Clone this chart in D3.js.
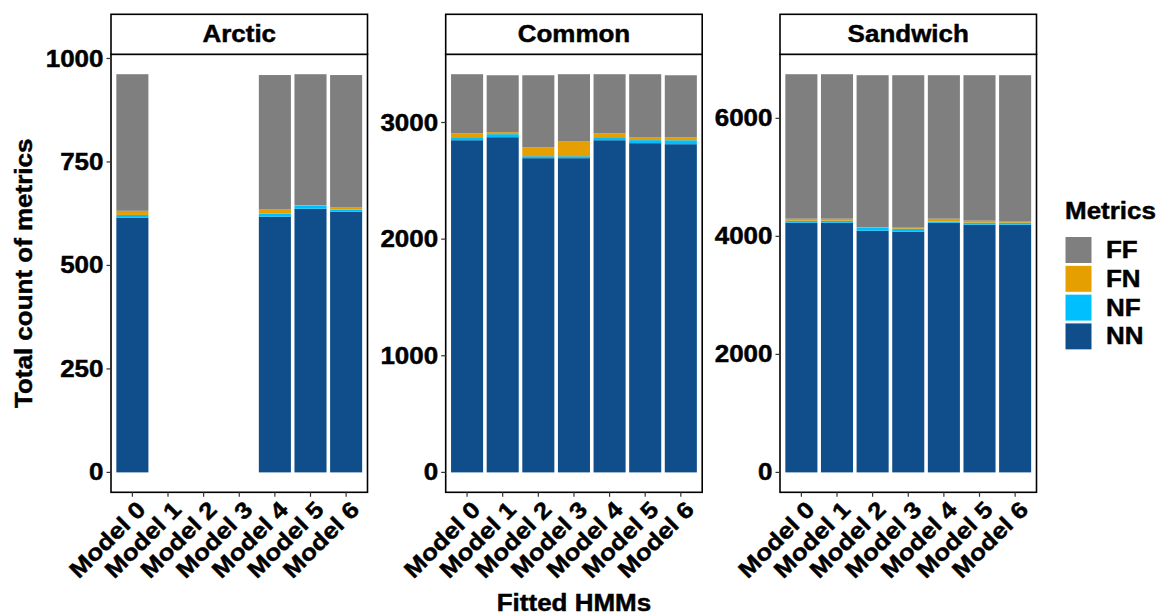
<!DOCTYPE html>
<html>
<head>
<meta charset="utf-8">
<script src="https://cdn.jsdelivr.net/npm/d3@7"></script>
<style>
  html, body { margin: 0; padding: 0; background: #fff; }
  svg { display: block; }
  text { font-family: "Liberation Sans", Arial, sans-serif; font-weight: bold; fill: #000;
         stroke: #000; stroke-width: 0.45px; }
</style>
</head>
<body>
<svg id="chart" width="1159" height="615"></svg>
<script>
// Stacked counts of HMM classification metrics per tern species and fitted model
const models = ["Model 0", "Model 1", "Model 2", "Model 3", "Model 4", "Model 5", "Model 6"];
const species = ["Arctic", "Common", "Sandwich"];
const metrics = ["FF", "FN", "NF", "NN"];
const metricColors = ["#7F7F7F", "#E69F00", "#00BFFF", "#104E8B"];

// Arctic: models 1-3 were not fitted
const arcticNN = [615, null, null, null, 618, 637, 630];
const arcticNF = [7, null, null, null, 7, 8, 5];
const arcticFN = [10, null, null, null, 10, 1, 5];
const arcticFF = [330, null, null, null, 325, 316, 320];

const commonNN = [2848, 2874, 2694, 2694, 2848, 2823, 2814];
const commonNF = [26, 26, 17, 17, 26, 26, 34];
const commonFN = [34, 17, 77, 129, 34, 26, 26];
const commonFF = [506, 488, 617, 574, 506, 539, 531];

const sandwichNN = [4231, 4231, 4096, 4079, 4231, 4198, 4198];
const sandwichNF = [34, 34, 51, 51, 17, 34, 34];
const sandwichFN = [34, 34, 5, 17, 51, 34, 17];
const sandwichFF = [2449, 2449, 2579, 2584, 2432, 2465, 2482];

const yTicks = [
  [0, 250, 500, 750, 1000],
  [0, 1000, 2000, 3000],
  [0, 2000, 4000, 6000]
];

const seriesBySpecies = [
  { NN: arcticNN, NF: arcticNF, FN: arcticFN, FF: arcticFF },
  { NN: commonNN, NF: commonNF, FN: commonFN, FF: commonFF },
  { NN: sandwichNN, NF: sandwichNF, FN: sandwichFN, FF: sandwichFF }
];

// ---- layout ----
const SX = 1.13;                 // glyph widening along the text direction
const panelLeft = [111, 445.7, 780];
const panelW = 256.5;
const stripTop = 14.3, panelTop = 54.3, panelBottom = 492.3;
const FONT = 23;

const svg = d3.select("#chart");
const color = d3.scaleOrdinal().domain(metrics).range(metricColors);
const stackKeys = ["NN", "NF", "FN", "FF"];

function label(g, x, y, str, opts = {}) {
  const rot = opts.rotate ? ` rotate(${opts.rotate})` : "";
  return g.append("text")
    .attr("transform", `translate(${x},${y})${rot} scale(${SX},1)`)
    .attr("text-anchor", opts.anchor || "middle")
    .attr("dy", opts.dy || "0.35em")
    .style("font-size", (opts.size || FONT) + "px")
    .text(str);
}

species.forEach((sp, i) => {
  const s = seriesBySpecies[i];
  const rows = models.map((m, j) => ({
    model: m,
    present: s.NN[j] != null,
    NN: s.NN[j] || 0, NF: s.NF[j] || 0, FN: s.FN[j] || 0, FF: s.FF[j] || 0
  }));
  const maxTotal = d3.max(rows, r => r.NN + r.NF + r.FN + r.FF);

  const x0 = panelLeft[i];
  // discrete positions with a 0.6-step expansion on each side
  const step = panelW / (models.length - 1 + 1.2);
  const x = d3.scalePoint().domain(models)
    .range([x0 + 0.6 * step, x0 + panelW - 0.6 * step]).padding(0);
  const barW = step * 0.9;

  const y = d3.scaleLinear()
    .domain([-0.05 * maxTotal, 1.05 * maxTotal])
    .range([panelBottom, panelTop]);

  const g = svg.append("g");

  // stacked bars
  const stacked = d3.stack().keys(stackKeys)(rows.filter(r => r.present));
  stacked.forEach(layer => {
    g.append("g").attr("fill", color(layer.key))
      .selectAll("rect").data(layer).join("rect")
      .attr("x", d => x(d.data.model) - barW / 2)
      .attr("width", barW)
      .attr("y", d => y(d[1]))
      .attr("height", d => Math.max(0, y(d[0]) - y(d[1])));
  });

  // panel border
  g.append("rect")
    .attr("x", x0).attr("y", panelTop)
    .attr("width", panelW).attr("height", panelBottom - panelTop)
    .attr("fill", "none").attr("stroke", "#000").attr("stroke-width", 1.6);

  // strip
  g.append("rect")
    .attr("x", x0).attr("y", stripTop)
    .attr("width", panelW).attr("height", panelTop - stripTop)
    .attr("fill", "#fff").attr("stroke", "#000").attr("stroke-width", 1.6);
  label(g, x0 + panelW / 2, (stripTop + panelTop) / 2, sp);

  // y axis
  yTicks[i].forEach(t => {
    const yy = y(t);
    g.append("line")
      .attr("x1", x0 - 4.5).attr("x2", x0)
      .attr("y1", yy).attr("y2", yy)
      .attr("stroke", "#333").attr("stroke-width", 1.2);
    label(g, x0 - 7.5, yy, d3.format("d")(t), { anchor: "end" });
  });

  // x axis
  models.forEach(m => {
    const xx = x(m);
    g.append("line")
      .attr("x1", xx).attr("x2", xx)
      .attr("y1", panelBottom).attr("y2", panelBottom + 4.5)
      .attr("stroke", "#333").attr("stroke-width", 1.2);
    label(g, xx + 3, panelBottom + 7, m, { anchor: "end", rotate: -45, dy: "0.72em" });
  });
});

// axis titles
label(svg, panelLeft[1] + panelW / 2, 602.5, "Fitted HMMs");
label(svg, 23.5, (panelTop + panelBottom) / 2, "Total count of metrics", { rotate: -90 });

// legend
const legend = svg.append("g");
label(legend, 1065, 211, "Metrics", { anchor: "start" });
metrics.forEach((m, k) => {
  const top = 236.5 + k * 28.8;
  legend.append("rect")
    .attr("x", 1065).attr("y", top)
    .attr("width", 27).attr("height", 27)
    .attr("fill", color(m)).attr("stroke", "#fff").attr("stroke-width", 1);
  label(legend, 1106, top + 13.5, m, { anchor: "start" });
});
</script>
</body>
</html>
